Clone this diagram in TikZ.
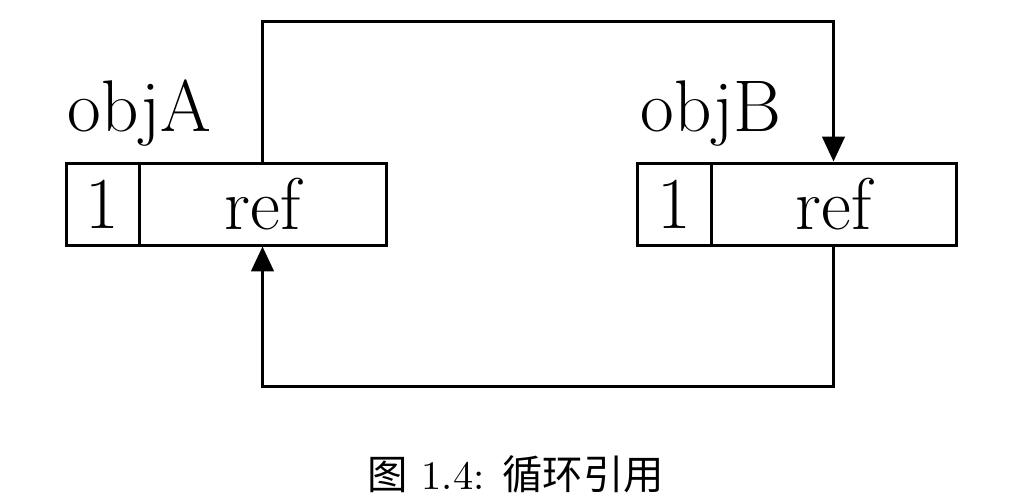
\documentclass[tikz,border=0pt]{standalone}
\usepackage{fontspec}
\newfontfamily\cjk{Noto Sans CJK SC}
\usetikzlibrary{arrows.meta}
\begin{document}
\begin{tikzpicture}[x=0.25pt,y=-0.25pt,
  cell/.style={draw,line width=0.75pt,inner sep=0pt,minimum height=82*0.25pt,font=\fontsize{18.3pt}{22pt}\selectfont},
  lbl/.style={anchor=base west,inner sep=0pt,font=\fontsize{18.3pt}{22pt}\selectfont},
  conn/.style={line width=0.75pt,line join=miter},
  tip/.style={-{Triangle[length=6.2pt,width=5.6pt]}}]
\useasboundingbox (0,0) rectangle (1029,503);
% object A
\node[cell,minimum width=73*0.25pt] (oneA) at (102.5,204) {1};
\node[cell,minimum width=247*0.25pt] (refA) at (262.5,204) {ref};
\node[lbl] (objA) at (67,131) {objA};
% object B
\node[cell,minimum width=74*0.25pt] (oneB) at (674,204) {1};
\node[cell,minimum width=245*0.25pt] (refB) at (833.5,204) {ref};
\node[lbl] (objB) at (640,131) {objB};
% route points
\coordinate (t1) at (262.5,21);
\coordinate (t2) at (833.5,21);
\coordinate (b1) at (833.5,386);
\coordinate (b2) at (262.5,386);
\draw[conn,tip] (refA.north) -- (t1) -- (t2) -- (refB.north);
\draw[conn,tip] (refB.south) -- (b1) -- (b2) -- (refA.south);
% caption
\node[anchor=base,inner sep=0pt,font=\fontsize{10.1pt}{12pt}\selectfont] (cap) at (516,489) {{\cjk 图}\ 1.4: {\cjk 循环引用}};
\end{tikzpicture}
\end{document}
